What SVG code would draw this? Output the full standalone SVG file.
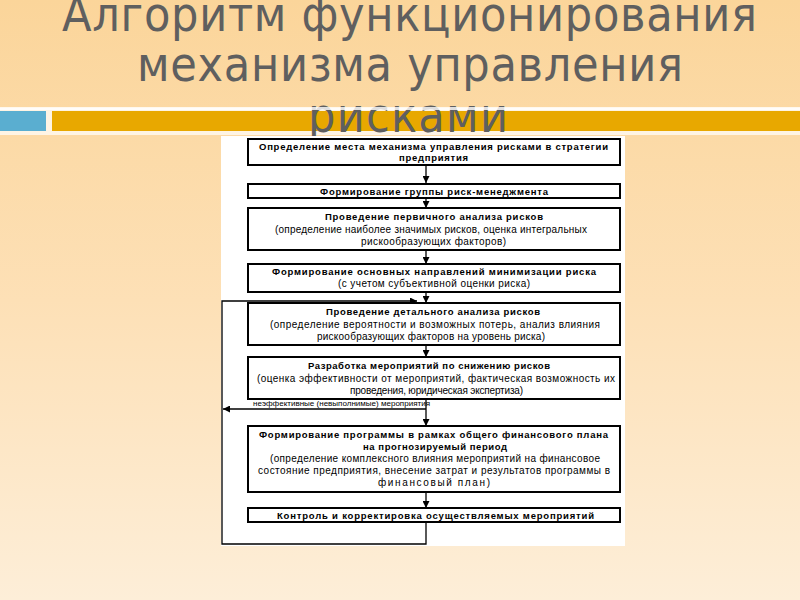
<svg xmlns="http://www.w3.org/2000/svg" width="800" height="600" viewBox="0 0 800 600">
<defs>
<linearGradient id="bg" x1="0" y1="0" x2="0" y2="1">
<stop offset="0" stop-color="#fbd59a"/>
<stop offset="0.5" stop-color="#fde0b6"/>
<stop offset="1" stop-color="#fdeed8"/>
</linearGradient>
<marker id="ah" viewBox="0 0 10 10" refX="10" refY="5" markerWidth="7" markerHeight="7" markerUnits="userSpaceOnUse" orient="auto">
<path d="M0,0 L10,5 L0,10 z" fill="#000"/>
</marker>
<style>
.box{fill:#fff;stroke:#000;stroke-width:2}
.b{font-family:"Liberation Sans","DejaVu Sans",sans-serif;font-size:9.5px;font-weight:bold;fill:#000}
.n{font-family:"Liberation Sans","DejaVu Sans",sans-serif;font-size:10px;fill:#000}
.ln{fill:none;stroke:#000;stroke-width:1.3}
.title{font-family:"DejaVu Sans Condensed","DejaVu Sans",sans-serif;font-size:48px;fill:#5f5f5f}
</style>
</defs>
<rect width="800" height="600" fill="url(#bg)"/>
<rect x="0" y="108" width="800" height="27" fill="#fff" opacity="0.7"/>
<rect x="0" y="111" width="46" height="20" fill="#5aaed0"/>
<rect x="52" y="111" width="748" height="20" fill="#e8a800"/>
<g id="title">
<text class="title" x="62" y="31" textLength="695" lengthAdjust="spacing">Алгоритм функционирования</text>
<text class="title" x="137" y="81" textLength="546" lengthAdjust="spacing">механизма управления</text>
<text class="title" x="308" y="132" textLength="200" lengthAdjust="spacing">рисками</text>
</g>
<rect x="0" y="107" width="800" height="3" fill="#fff" opacity="0.8"/>
<rect x="221" y="136" width="404" height="410" fill="#fff"/>
<g id="connectors">
<line class="ln" x1="426" y1="165" x2="426" y2="183" marker-end="url(#ah)"/>
<line class="ln" x1="426" y1="198" x2="426" y2="208" marker-end="url(#ah)"/>
<line class="ln" x1="426" y1="250" x2="426" y2="264" marker-end="url(#ah)"/>
<line class="ln" x1="426" y1="292" x2="426" y2="303" marker-end="url(#ah)"/>
<line class="ln" x1="426" y1="345" x2="426" y2="357" marker-end="url(#ah)"/>
<line class="ln" x1="426" y1="399" x2="426" y2="426" marker-end="url(#ah)"/>
<line class="ln" x1="426" y1="409" x2="223" y2="409" marker-end="url(#ah)"/>
<line class="ln" x1="426" y1="492" x2="426" y2="508" marker-end="url(#ah)"/>
<polyline class="ln" points="426,522 426,544 222,544 222,301 417,301" marker-end="url(#ah)"/>
<text x="253" y="406" font-family="Liberation Sans, DejaVu Sans, sans-serif" font-size="6.5px" fill="#000" textLength="177" lengthAdjust="spacingAndGlyphs">неэффективные (невыполнимые) мероприятия</text>
</g>
<g id="n1">
<rect class="box" x="248" y="139" width="372" height="26"/>
<text class="b" x="259" y="150" textLength="349" lengthAdjust="spacing">Определение места механизма управления рисками в стратегии</text>
<text class="b" x="399" y="161" textLength="69" lengthAdjust="spacing">предприятия</text>
</g>
<g id="n2">
<rect class="box" x="248" y="184" width="372" height="14"/>
<text class="b" x="320" y="194.5" textLength="228" lengthAdjust="spacing">Формирование группы риск-менеджмента</text>
</g>
<g id="n3">
<rect class="box" x="248" y="208" width="372" height="42"/>
<text class="b" x="325" y="220" textLength="218" lengthAdjust="spacing">Проведение первичного анализа рисков</text>
<text class="n" x="275" y="233" textLength="312" lengthAdjust="spacing">(определение наиболее значимых рисков, оценка интегральных</text>
<text class="n" x="361" y="245" textLength="145" lengthAdjust="spacing">рискообразующих факторов)</text>
</g>
<g id="n4">
<rect class="box" x="248" y="264" width="372" height="28"/>
<text class="b" x="272" y="275" textLength="324" lengthAdjust="spacing">Формирование основных направлений минимизации риска</text>
<text class="n" x="338" y="287" textLength="192" lengthAdjust="spacing">(с учетом субъективной оценки риска)</text>
</g>
<g id="n5">
<rect class="box" x="248" y="303" width="372" height="42"/>
<text class="b" x="326" y="315" textLength="214" lengthAdjust="spacing">Проведение детального анализа рисков</text>
<text class="n" x="270" y="328" textLength="330" lengthAdjust="spacing">(определение вероятности и возможных потерь, анализ влияния</text>
<text class="n" x="317" y="340" textLength="228" lengthAdjust="spacing">рискообразующих факторов на уровень риска)</text>
</g>
<g id="n6">
<rect class="box" x="248" y="357" width="372" height="42"/>
<text class="b" x="308" y="369" textLength="242" lengthAdjust="spacing">Разработка мероприятий по снижению рисков</text>
<text class="n" x="257" y="382" textLength="358" lengthAdjust="spacing">(оценка эффективности от мероприятий, фактическая возможность их</text>
<text class="n" x="350" y="394" textLength="173" lengthAdjust="spacing">проведения, юридическая экспертиза)</text>
</g>
<g id="n7">
<rect class="box" x="248" y="426" width="372" height="66"/>
<text class="b" x="259" y="438" textLength="349" lengthAdjust="spacing">Формирование программы в рамках общего финансового плана</text>
<text class="b" x="363" y="450" textLength="144" lengthAdjust="spacing">на прогнозируемый период</text>
<text class="n" x="270" y="462" textLength="330" lengthAdjust="spacing">(определение комплексного влияния мероприятий на финансовое</text>
<text class="n" x="258" y="474" textLength="352" lengthAdjust="spacing">состояние предприятия, внесение затрат и результатов программы в</text>
<text class="n" x="378" y="486" textLength="112" lengthAdjust="spacing">финансовый план)</text>
</g>
<g id="n8">
<rect class="box" x="248" y="508" width="372" height="14"/>
<text class="b" x="277" y="518.5" textLength="317" lengthAdjust="spacing">Контроль и корректировка осуществляемых мероприятий</text>
</g>
</svg>
